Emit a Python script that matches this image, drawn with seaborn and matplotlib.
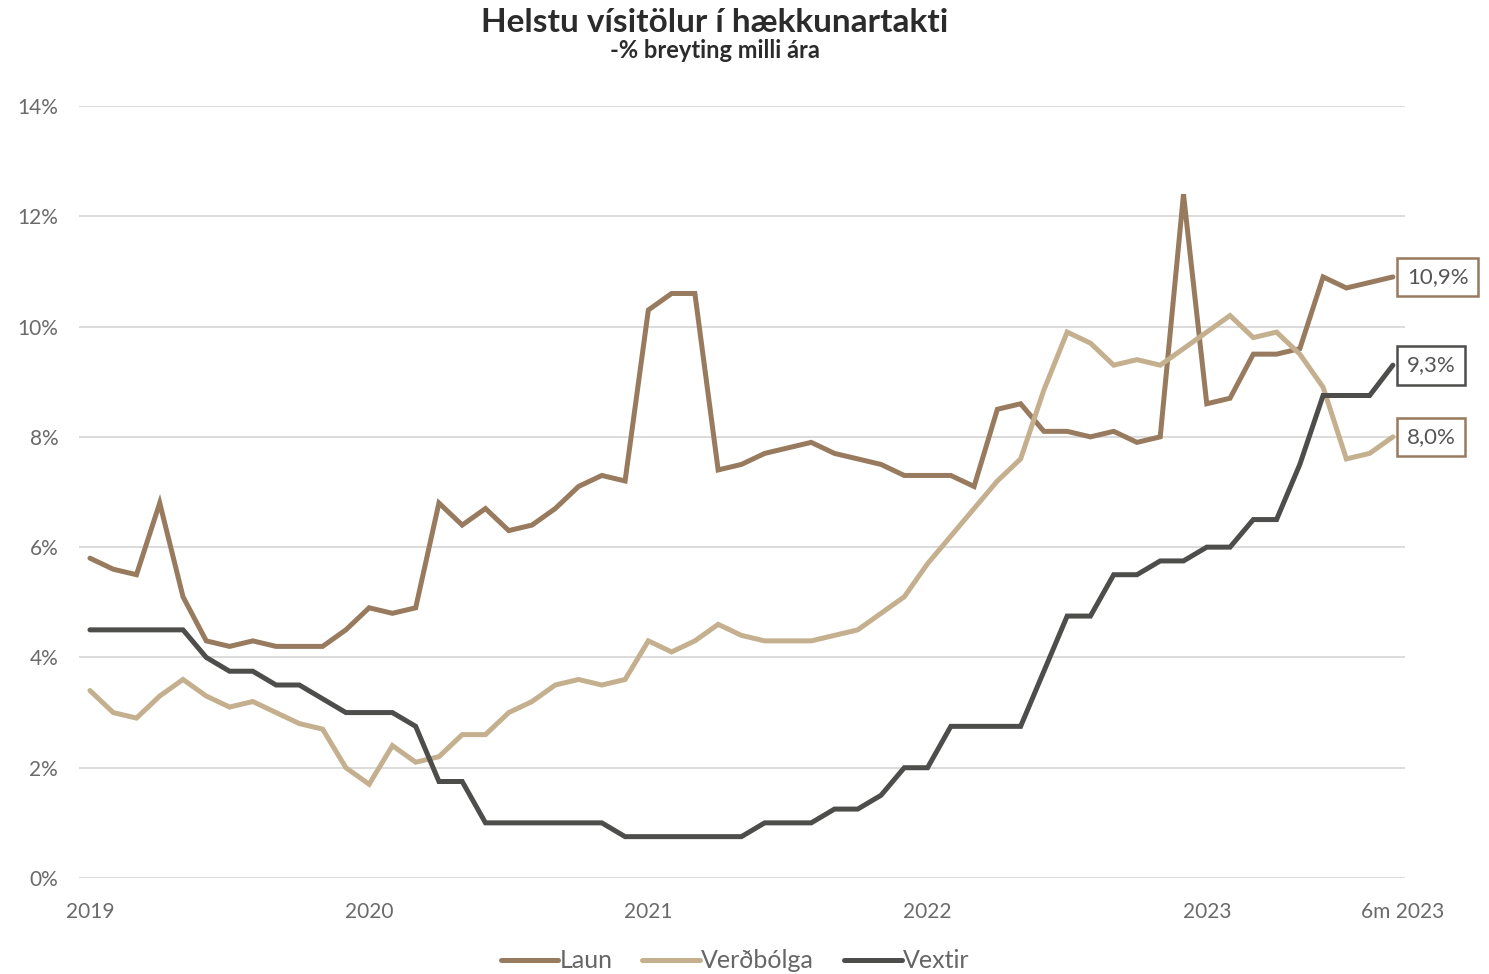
import matplotlib
matplotlib.use("Agg")
import matplotlib.pyplot as plt
import seaborn as sns
import pandas as pd
import numpy as np

# Monthly year-on-year change (%), Jan 2019 onward
laun = [5.8, 5.6, 5.5, 6.8, 5.1, 4.3, 4.2, 4.3, 4.2, 4.2, 4.2, 4.5,
        4.9, 4.8, 4.9, 6.8, 6.4, 6.7, 6.3, 6.4, 6.7, 7.1, 7.3, 7.2,
        10.3, 10.6, 10.6, 7.4, 7.5, 7.7, 7.8, 7.9, 7.7, 7.6, 7.5, 7.3,
        7.3, 7.3, 7.1, 8.5, 8.6, 8.1, 8.1, 8.0, 8.1, 7.9, 8.0, 12.4,
        8.6, 8.7, 9.5, 9.5, 9.6, 10.9, 10.7, 10.8, 10.9]
verdbolga = [3.4, 3.0, 2.9, 3.3, 3.6, 3.3, 3.1, 3.2, 3.0, 2.8, 2.7, 2.0,
             1.7, 2.4, 2.1, 2.2, 2.6, 2.6, 3.0, 3.2, 3.5, 3.6, 3.5, 3.6,
             4.3, 4.1, 4.3, 4.6, 4.4, 4.3, 4.3, 4.3, 4.4, 4.5, 4.8, 5.1,
             5.7, 6.2, 6.7, 7.2, 7.6, 8.85, 9.9, 9.7, 9.3, 9.4, 9.3, 9.6,
             9.9, 10.2, 9.8, 9.9, 9.5, 8.9, 7.6, 7.7, 8.0]
vextir = [4.5, 4.5, 4.5, 4.5, 4.5, 4.0, 3.75, 3.75, 3.5, 3.5, 3.25, 3.0,
          3.0, 3.0, 2.75, 1.75, 1.75, 1.0, 1.0, 1.0, 1.0, 1.0, 1.0, 0.75,
          0.75, 0.75, 0.75, 0.75, 0.75, 1.0, 1.0, 1.0, 1.25, 1.25, 1.5, 2.0,
          2.0, 2.75, 2.75, 2.75, 2.75, 3.75, 4.75, 4.75, 5.5, 5.5, 5.75, 5.75,
          6.0, 6.0, 6.5, 6.5, 7.5, 8.75, 8.75, 8.75, 9.3]

series_names = ["Laun", "Verðbólga", "Vextir"]
end_labels = ["10,9%", "8,0%", "9,3%"]
tick_pos = [0, 12, 24, 36, 48, 56.4]
tick_labels = ["2019", "2020", "2021", "2022", "2023", "6m 2023"]
y_ticks = [0, 2, 4, 6, 8, 10, 12, 14]

colors = {"Laun": "#987b5e", "Verðbólga": "#c4b08e", "Vextir": "#4d4d4b"}
box_edges = {"Laun": "#987b5e", "Verðbólga": "#987b5e", "Vextir": "#4d4d4b"}

n = len(laun)
df = pd.DataFrame({
    "t": list(range(n)) * 3,
    "value": laun + verdbolga + vextir,
    "series": ["Laun"] * n + ["Verðbólga"] * n + ["Vextir"] * n,
})

sns.set_theme(style="white")
plt.rcParams["font.family"] = ["Lato", "DejaVu Sans"]

W, H = 1489, 974
fig = plt.figure(figsize=(W / 100, H / 100), dpi=100)
ax = fig.add_axes([79 / W, 1 - 878 / H, (1405 - 79) / W, (878 - 106) / H])

sns.lineplot(data=df, x="t", y="value", hue="series", hue_order=series_names,
             palette=colors, linewidth=3.6, ax=ax, legend=True,
             solid_capstyle="round", solid_joinstyle="miter")

ax.set_xlim(-0.47, 56.52)
ax.set_ylim(0, 14)
ax.set_yticks(y_ticks)
ax.set_yticklabels([f"{v}%" for v in y_ticks])
ax.set_xticks(tick_pos)
ax.set_xticklabels(tick_labels)
ax.tick_params(axis="both", length=0, labelsize=15, labelcolor="#6a6a6a")
ax.tick_params(axis="y", pad=15)
ax.tick_params(axis="x", pad=17)
ax.set_xlabel("")
ax.set_ylabel("")
ax.grid(axis="y", color="#dcdcdc", linewidth=1.4)
ax.grid(axis="x", visible=False)
for s in ax.spines.values():
    s.set_visible(False)

# Value boxes at the end of each line
for name, vals, lab in zip(series_names, [laun, verdbolga, vextir], end_labels):
    ax.annotate(lab, xy=(n - 1, vals[-1]), xytext=(10, 0), textcoords="offset points",
                ha="left", va="center", fontsize=16, color="#555555",
                bbox=dict(boxstyle="square,pad=0.42", fc="white", ec=box_edges[name], lw=1.8),
                annotation_clip=False)

fig.text(0.48, 1 - 22 / H, "Helstu vísitölur í hækkunartakti", ha="center", va="center",
         fontsize=24, fontweight="bold", color="#2b2b2b")
fig.text(0.48, 1 - 50 / H, "-% breyting milli ára", ha="center", va="center",
         fontsize=17, fontweight="bold", color="#2b2b2b")

handles, labels = ax.get_legend_handles_labels()
ax.get_legend().remove()
fig.legend(handles, labels, loc="center", bbox_to_anchor=(735 / W, 1 - 961 / H), ncol=3,
           frameon=False, fontsize=18, handlelength=2.3, handletextpad=0.05,
           columnspacing=1.2, labelcolor="#666666")

fig.savefig("out.png", dpi=100, facecolor="white")
